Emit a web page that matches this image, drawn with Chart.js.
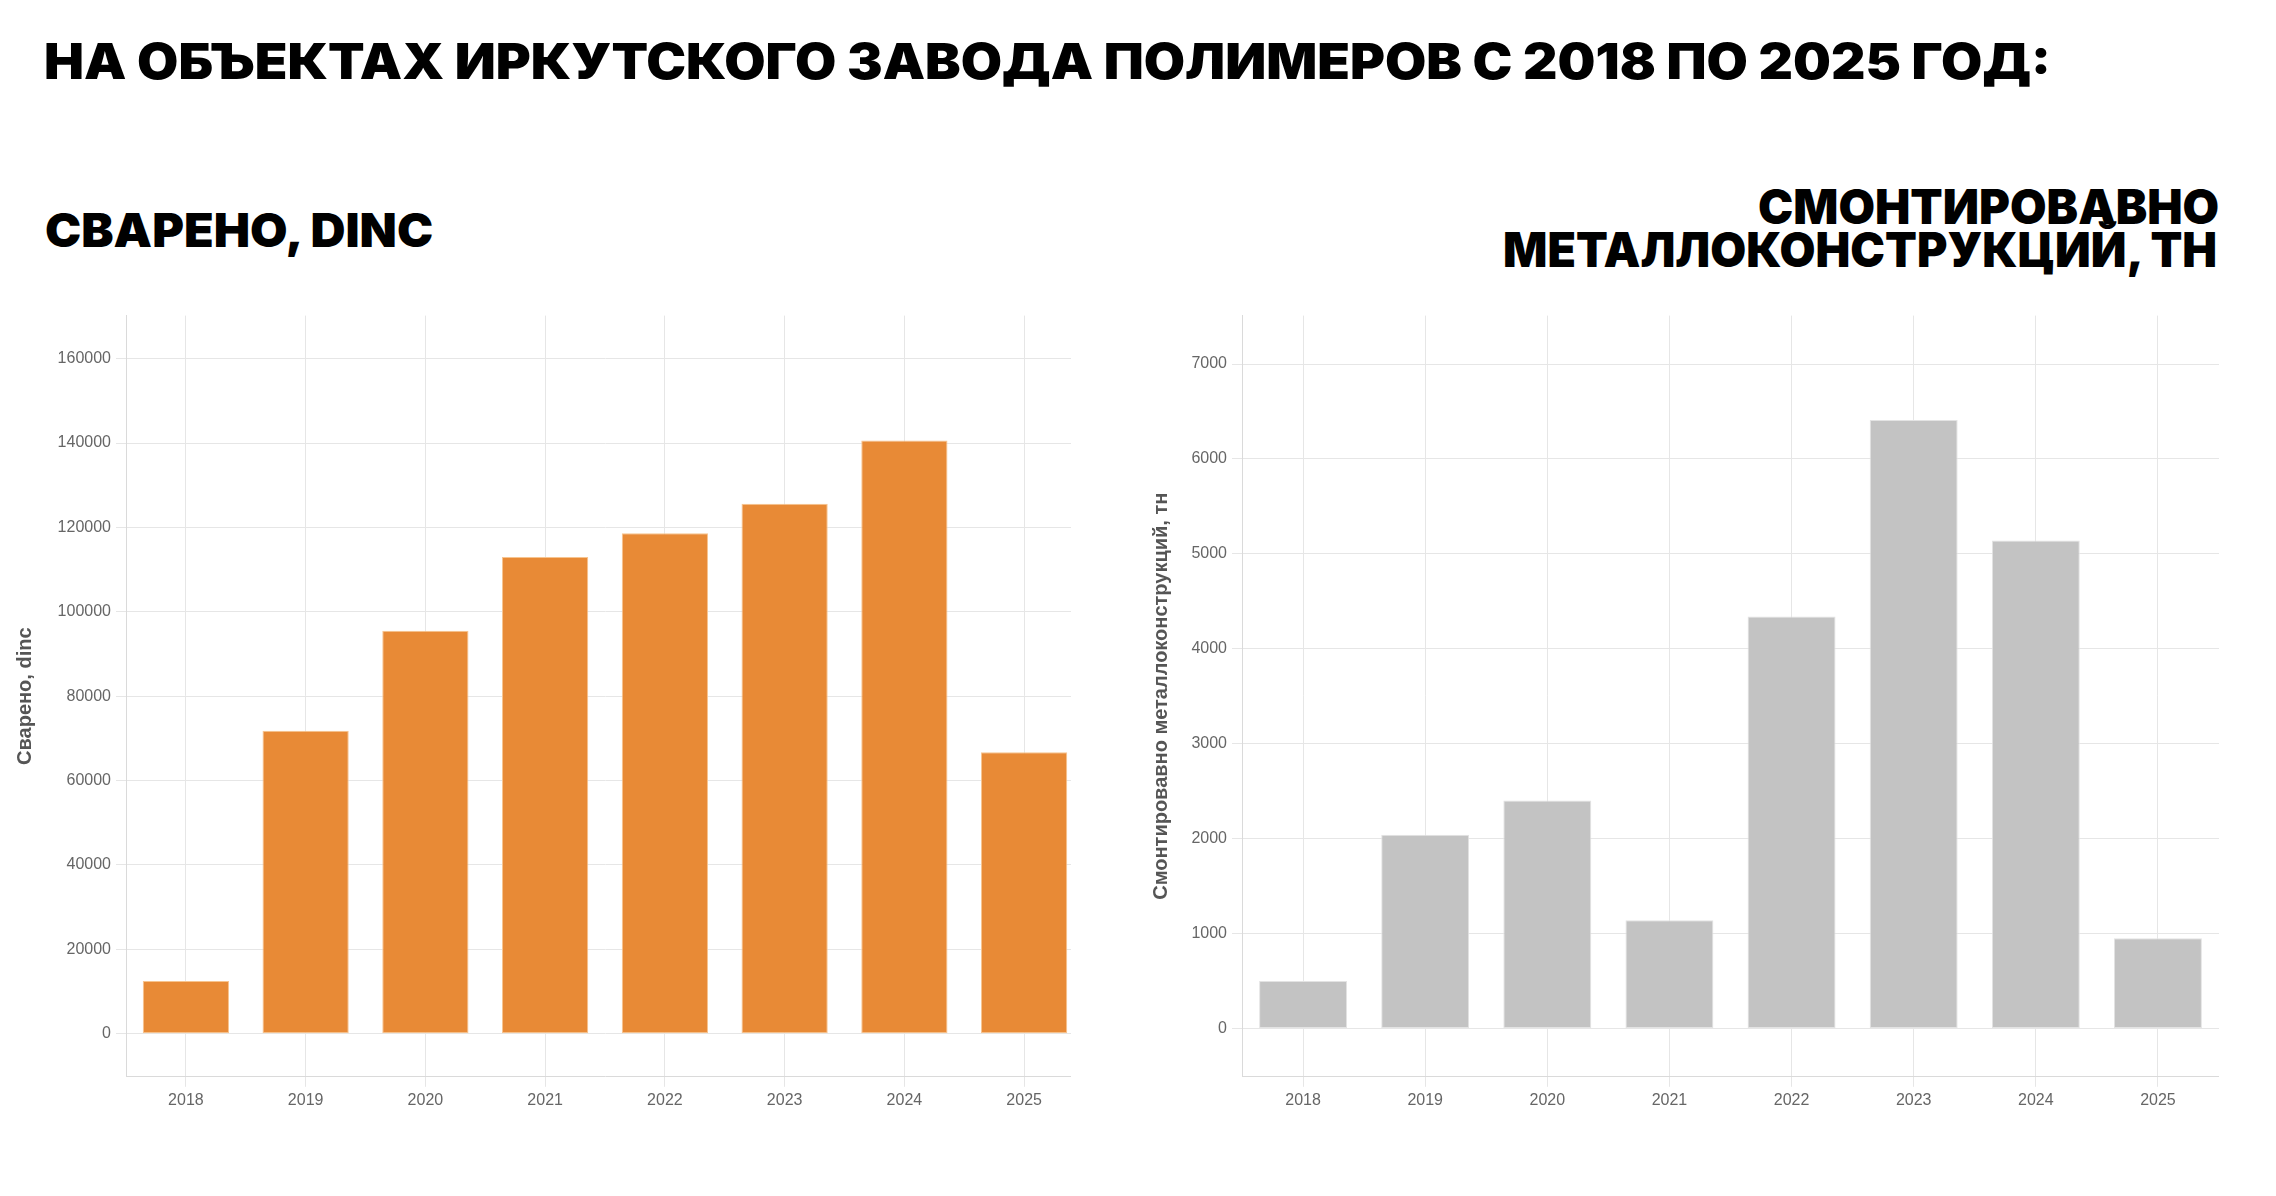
<!DOCTYPE html>
<html lang="ru">
<head>
<meta charset="utf-8">
<title>Иркутский завод полимеров 2018–2025</title>
<script src="https://cdn.jsdelivr.net/npm/chart.js@4.4.1/dist/chart.umd.min.js"></script>
<style>
  html, body { margin: 0; padding: 0; background: #fff; }
  body { width: 2276px; height: 1196px; position: relative; overflow: hidden; }
  .ttl { position: absolute; margin: 0; white-space: nowrap; color: #000;
         font-family: Inter, 'Noto Sans', 'DejaVu Sans', sans-serif; font-weight: 900; }
  #leftWrap { position: absolute; left: 0; top: 0; width: 1071px; height: 1196px; overflow: hidden; }
  canvas { position: absolute; }
</style>
</head>
<body>
<div class="ttl" id="mainTitle">НА ОБЪЕКТАХ ИРКУТСКОГО ЗАВОДА ПОЛИМЕРОВ С 2018 ПО 2025 ГОД:</div>
<div class="ttl" id="leftTitle">СВАРЕНО, DINC</div>
<div class="ttl" id="rightTitle1">СМОНТИРОВАВНО</div>
<div class="ttl" id="rightTitle2">МЕТАЛЛОКОНСТРУКЦИЙ, ТН</div>
<div id="leftWrap"><canvas id="weldChart"></canvas></div>
<canvas id="steelChart"></canvas>
<script>
// data
const years = ['2018', '2019', '2020', '2021', '2022', '2023', '2024', '2025'];
const weldedDinc = [12500, 71800, 95500, 113000, 118600, 125600, 140600, 66700];
const steelTons = [500, 2040, 2400, 1140, 4340, 6410, 5140, 950];
const weldTicks = [0, 20000, 40000, 60000, 80000, 100000, 120000, 140000, 160000];
const steelTicks = [0, 1000, 2000, 3000, 4000, 5000, 6000, 7000];

const gridColor = '#e6e6e6';
const axisColor = '#dadada';

Chart.defaults.font.family = "'Liberation Sans', Arial, sans-serif";
Chart.defaults.color = '#666';

// headings: size from cap height, stretched to the measured width
const measure = document.createElement('canvas').getContext('2d');

function fitText(id, inkLeft, inkRight, capTop, capBottom) {
  const el = document.getElementById(id);
  const family = getComputedStyle(el).fontFamily;
  measure.font = `900 100px ${family}`;
  const cap = measure.measureText('Н').actualBoundingBoxAscent / 100;
  const size = (capBottom - capTop) / cap;
  measure.font = `900 ${size}px ${family}`;
  const m = measure.measureText(el.textContent);
  const inkW = m.actualBoundingBoxLeft + m.actualBoundingBoxRight;
  const sx = (inkRight - inkLeft) / inkW;
  const baseline = (size - m.fontBoundingBoxAscent - m.fontBoundingBoxDescent) / 2 + m.fontBoundingBoxAscent;
  el.style.fontSize = size + 'px';
  el.style.lineHeight = size + 'px';
  el.style.top = (capBottom - baseline) + 'px';
  el.style.left = (inkLeft + m.actualBoundingBoxLeft * sx) + 'px';
  el.style.transformOrigin = 'left top';
  el.style.transform = `scaleX(${sx})`;
}

fitText('mainTitle', 46, 2047, 44, 80);
fitText('leftTitle', 46, 435, 213, 247);
fitText('rightTitle1', 1759, 2218, 190, 225);
fitText('rightTitle2', 1505, 2218, 233, 268);

function barConfig(values, fill, edge, ticks, min, max, title, axisWidth, titlePad) {
  return {
    type: 'bar',
    data: {
      labels: years,
      datasets: [{
        data: values,
        backgroundColor: fill,
        borderColor: edge,
        borderWidth: 1,
        borderSkipped: false,
        categoryPercentage: 0.8,
        barPercentage: 0.9
      }]
    },
    options: {
      responsive: false,
      maintainAspectRatio: false,
      devicePixelRatio: 1,
      animation: false,
      layout: { padding: 0 },
      plugins: { legend: { display: false }, tooltip: { enabled: false } },
      scales: {
        x: {
          offset: true,
          grid: { offset: false, color: gridColor, tickLength: 10 },
          border: { color: axisColor },
          ticks: { color: '#666', font: { size: 16 }, padding: 4 }
        },
        y: {
          min: min,
          max: max,
          afterBuildTicks: s => { s.ticks = ticks.map(v => ({ value: v })); },
          afterFit: s => { s.width = axisWidth; },
          grid: { color: gridColor, tickLength: 10 },
          border: { color: axisColor },
          ticks: { color: '#666', font: { size: 16 }, padding: 5, callback: v => String(v) },
          title: {
            display: true,
            text: title,
            color: '#555',
            font: { size: 20, weight: 'bold' },
            padding: { top: titlePad, bottom: 0 }
          }
        }
      }
    }
  };
}

// build once, measure the plot area, then resize and shift the canvas onto the target box
function placeChart(canvas, makeConfig, area) {
  canvas.width = area.right - area.left + 300;
  canvas.height = area.bottom - area.top + 100;
  let chart = new Chart(canvas, makeConfig());
  const a = chart.chartArea;
  const w = canvas.width + (area.right - area.left) - (a.right - a.left);
  const h = canvas.height + (area.bottom - area.top) - (a.bottom - a.top);
  chart.destroy();
  canvas.width = Math.round(w);
  canvas.height = Math.round(h);
  chart = new Chart(canvas, makeConfig());
  const b = chart.chartArea;
  canvas.style.left = (area.left - b.left) + 'px';
  canvas.style.top = (area.top - b.top) + 'px';
  return chart;
}

placeChart(document.getElementById('weldChart'),
  () => barConfig(weldedDinc, '#E88A36', '#F7C48F', weldTicks, -10200, 170200, 'Сварено, dinc', 126, 13),
  { left: 126, top: 316, right: 1084, bottom: 1077 });

placeChart(document.getElementById('steelChart'),
  () => barConfig(steelTons, '#C3C3C3', '#E3E3E3', steelTicks, -510, 7510, 'Смонтировавно металлоконструкций, тн', 102, 9),
  { left: 1242, top: 316, right: 2219, bottom: 1077 });
</script>
</body>
</html>
